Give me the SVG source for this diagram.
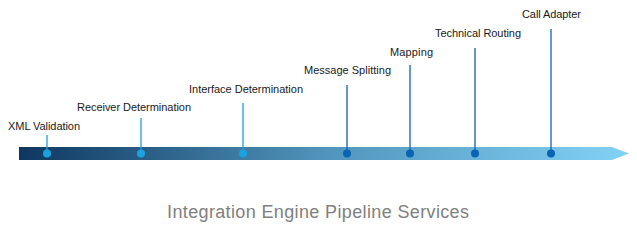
<svg xmlns="http://www.w3.org/2000/svg" width="637" height="230" viewBox="0 0 637 230">
<defs>
<linearGradient id="bar" x1="19" y1="0" x2="629" y2="0" gradientUnits="userSpaceOnUse">
<stop offset="0" stop-color="#0e3760"/>
<stop offset="0.5" stop-color="#5194bb"/>
<stop offset="1" stop-color="#82d2f6"/>
</linearGradient>
<style>
.lbl{font-family:"Liberation Sans",Arial,sans-serif;font-size:11px;fill:#1a1a1a}
.title{font-family:"Liberation Sans",Arial,sans-serif;font-size:18px;fill:#7f7f7f}
.s1{stroke:#1aa3e0;stroke-width:1.3}
.s2{stroke:#0a63b3;stroke-width:1.3}
.d1{fill:#1aa3e0}
.d2{fill:#0a63b3}
</style>
</defs>
<rect width="637" height="230" fill="#ffffff"/>
<polygon id="timeline" points="19,147 612,147 629,153.5 612,160 19,160" fill="url(#bar)"/>
<g id="connectors">
<line class="s1" x1="47" y1="135" x2="47" y2="153"/>
<line class="s1" x1="141" y1="118" x2="141" y2="153"/>
<line class="s1" x1="243" y1="103" x2="243" y2="153"/>
<line class="s2" x1="347" y1="85" x2="347" y2="153"/>
<line class="s2" x1="410" y1="65" x2="410" y2="153"/>
<line class="s2" x1="475" y1="48" x2="475" y2="153"/>
<line class="s2" x1="551" y1="29" x2="551" y2="153"/>
</g>
<g id="n1"><circle class="d1" cx="47" cy="153.5" r="4"/><text class="lbl" x="8" y="130" textLength="72">XML Validation</text></g>
<g id="n2"><circle class="d1" cx="141" cy="153.5" r="4"/><text class="lbl" x="77" y="111" textLength="114">Receiver Determination</text></g>
<g id="n3"><circle class="d1" cx="243" cy="153.5" r="4"/><text class="lbl" x="189" y="93" textLength="114">Interface Determination</text></g>
<g id="n4"><circle class="d2" cx="347" cy="153.5" r="4"/><text class="lbl" x="304" y="74" textLength="87">Message Splitting</text></g>
<g id="n5"><circle class="d2" cx="410" cy="153.5" r="4"/><text class="lbl" x="390" y="56" textLength="43">Mapping</text></g>
<g id="n6"><circle class="d2" cx="475" cy="153.5" r="4"/><text class="lbl" x="435" y="37" textLength="86">Technical Routing</text></g>
<g id="n7"><circle class="d2" cx="551" cy="153.5" r="4"/><text class="lbl" x="522" y="18" textLength="59">Call Adapter</text></g>
<text class="title" x="167" y="218" textLength="302">Integration Engine Pipeline Services</text>
</svg>
